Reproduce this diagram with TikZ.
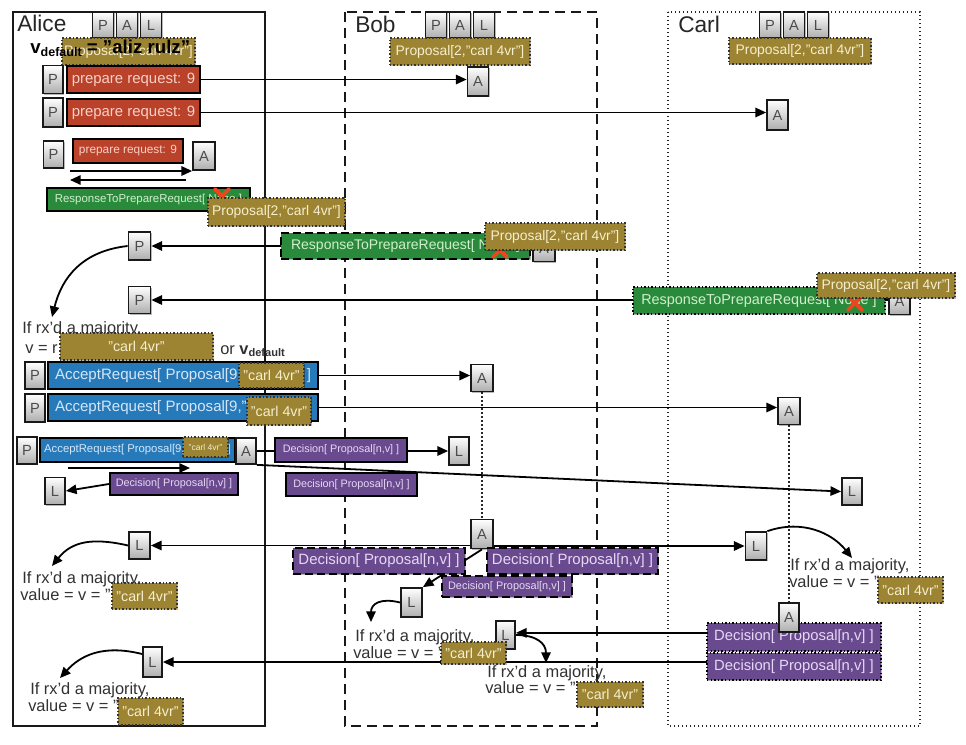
\documentclass[tikz,border=0pt]{standalone}
\usepackage{fontspec}
\setmainfont{Liberation Sans}
\usetikzlibrary{arrows.meta,backgrounds,shadows}

\definecolor{gold}{RGB}{156,132,50}
\definecolor{goldtext}{RGB}{246,238,205}
\definecolor{reqred}{RGB}{186,66,42}
\definecolor{reqtext}{RGB}{246,208,198}
\definecolor{respgreen}{RGB}{42,138,60}
\definecolor{resptext}{RGB}{208,238,204}
\definecolor{accblue}{RGB}{38,122,186}
\definecolor{acctext}{RGB}{212,230,248}
\definecolor{decpurple}{RGB}{106,74,142}
\definecolor{dectext}{RGB}{230,216,244}
\definecolor{xred}{RGB}{238,70,28}
\definecolor{ink}{RGB}{50,50,50}

\newcommand\myfs[1]{\fontsize{#1pt}{#1pt}\selectfont}
\newcommand\vdefsub[2]{v\raisebox{-#2}{\myfs{#1}default}}

\begin{document}
\begin{tikzpicture}[x=0.75pt,y=-0.75pt,
  sz/.style 2 args={minimum width=#1*0.75pt,minimum height=#2*0.75pt},
  softshadow/.style={drop shadow={shadow xshift=0.9pt,shadow yshift=-0.9pt,opacity=0.28,fill=black}},
  lanetitle/.style={anchor=base west,inner sep=0pt,font=\myfs{17},text=black!85},
  actor/.style={draw=black!90,line width=1.3pt,top color=white,bottom color=black!32,
    text=black!70,font=\myfs{11},inner sep=0pt,softshadow},
  msg/.style={draw=black,line width=1.7pt,inner sep=0pt,softshadow},
  dashedmsg/.style={dash pattern=on 6pt off 3pt},
  dottedmsg/.style={line width=1.4pt,dash pattern=on 1.1pt off 1.6pt},
  prep/.style={msg,fill=reqred,text=reqtext},
  resp/.style={msg,fill=respgreen,text=resptext},
  acc/.style={msg,fill=accblue,text=acctext},
  dec/.style={msg,fill=decpurple,text=dectext},
  prop/.style={draw=black!80,line width=1.3pt,dash pattern=on 1.1pt off 1.5pt,
    fill=gold,text=goldtext,inner sep=0pt,softshadow},
  note/.style={anchor=base west,inner sep=0pt,font=\myfs{12.3},text=ink},
  link/.style={draw=black,line width=1.35pt,-{Triangle[length=8pt,width=7pt]}},
  timeline/.style={draw=black!85,line width=1.4pt,dash pattern=on 1.1pt off 1.9pt},
  xmark/.style={draw=xred,line width=2.8pt,line cap=round},
]
\useasboundingbox (0,0) rectangle (966,744);

% lane headings and their P/A/L badges
\node[lanetitle] (tAlice) at (17,31) {Alice};
\node[lanetitle] (tBob) at (355,32) {Bob};
\node[lanetitle] (tCarl) at (678,32) {Carl};

\node[actor,sz={21}{26}] (aP0) at (103,25) {P};
\node[actor,sz={21}{26}] (aA0) at (127,25) {A};
\node[actor,sz={21}{26}] (aL0) at (151,25) {L};
\node[actor,sz={21}{26}] (bP0) at (436,25) {P};
\node[actor,sz={21}{26}] (bA0) at (460,25) {A};
\node[actor,sz={21}{26}] (bL0) at (484,25) {L};
\node[actor,sz={21}{26}] (cP0) at (770,25) {P};
\node[actor,sz={21}{26}] (cA0) at (794,25) {A};
\node[actor,sz={21}{26}] (cL0) at (818,25) {L};

% proposals already accepted by each acceptor
\node[prop,sz={133}{27},font=\myfs{10.4}] (aProp0) at (128.5,51.5) {Proposal[2,"carl 4vr"]};
\node[anchor=base west,inner sep=0pt,font=\myfs{14}\bfseries] (vDef0) at (30,53) {\vdefsub{9.4}{2.5pt} = "aliz rulz"};
\node[prop,sz={140}{27},font=\myfs{10.4}] (bProp0) at (460,51.5) {Proposal[2,"carl 4vr"]};
\node[prop,sz={142}{26},font=\myfs{10.4}] (cProp0) at (800,51) {Proposal[2,"carl 4vr"]};

% phase 1: prepare requests and responses
\node[actor,sz={20}{28}] (aP1) at (53,79.5) {P};
\node[prep,sz={133}{27},font=\myfs{11.2}] (req1) at (133.5,79.5) {prepare request: 9};
\node[actor,sz={21}{29}] (bA1) at (478,81.5) {A};
\node[actor,sz={20}{29}] (aP2) at (53,112.5) {P};
\node[prep,sz={133}{27},font=\myfs{11.2}] (req2) at (133.5,112.5) {prepare request: 9};
\node[actor,sz={21}{30}] (cA1) at (777.5,115) {A};
\node[actor,sz={20}{27}] (aP3) at (53.5,154.5) {P};
\node[prep,sz={110}{24},font=\myfs{8.9}] (req3) at (128,151) {prepare request: 9};
\node[actor,sz={22}{28}] (aA3) at (204,156) {A};
\coordinate (r3out) at (70,171);
\coordinate (r3in) at (186,180);
\node[resp,sz={203}{23},font=\myfs{8.6}] (aResp) at (148.5,199.5) {ResponseToPrepareRequest[ None ]};
\coordinate (x1) at (222,196);
\draw[xmark] (x1) +(-7,-7) -- +(7,7) +(-7,7) -- +(7,-7);
\node[prop,sz={137}{28},font=\myfs{10.4}] (aProp1) at (276.5,212) {Proposal[2,"carl 4vr"]};

\node[actor,sz={22}{28}] (aP4) at (139.5,246) {P};
\node[actor,sz={22}{26}] (bA2) at (544,248.5) {A};
\node[resp,dashedmsg,sz={249}{26},font=\myfs{10.5}] (bResp) at (405.5,246) {ResponseToPrepareRequest[ None ]};
\coordinate (x2) at (500,250);
\draw[xmark] (x2) +(-7,-7) -- +(7,7) +(-7,7) -- +(7,-7);
\node[prop,sz={140}{27},font=\myfs{10.4}] (bProp1) at (555,236.5) {Proposal[2,"carl 4vr"]};

\node[actor,sz={22}{27}] (aP5) at (139.5,300) {P};
\node[actor,sz={21}{26}] (cA2) at (899.5,301.5) {A};
\node[resp,dottedmsg,sz={252}{27},font=\myfs{10.8}] (cResp) at (759,300.5) {ResponseToPrepareRequest[ None ]};
\coordinate (x3) at (855,303);
\draw[xmark] (x3) +(-7,-7) -- +(7,7) +(-7,7) -- +(7,-7);
\node[prop,sz={138}{25},font=\myfs{10.4}] (cProp1) at (886,285.5) {Proposal[2,"carl 4vr"]};

% proposer picks the value for phase 2
\coordinate (m1tip) at (52,317);
\node[note] (m1a) at (22,333) {If rx'd a majority,};
\node[note] (m1b) at (25,353) {v = r};
\node[prop,sz={153}{27},font=\myfs{10.7}] (m1v) at (136.5,346.5) {"carl 4vr"};
\node[note] (m1or) at (220,354) {or \textbf{\vdefsub{8.3}{2.2pt}}};

% phase 2: accept requests
\node[actor,sz={20}{27}] (aP6) at (35,375.5) {P};
\node[acc,sz={270}{27},font=\myfs{11.3}] (acc1) at (183,375.5) {\hbox to 192pt{AcceptRequest[ Proposal[9,"\hfil]}};
\node[prop,sz={65}{25},font=\myfs{10.7}] (acc1v) at (271.5,375.5) {"carl 4vr"};
\node[actor,sz={22}{27}] (bA3) at (482,378) {A};
\node[actor,sz={20}{28}] (aP7) at (35,408) {P};
\node[acc,sz={270}{27},font=\myfs{11.3}] (acc2) at (183,407.5) {\hbox to 192pt{AcceptRequest[ Proposal[9,"\hfil]}};
\node[prop,sz={64}{28},font=\myfs{10.7}] (acc2v) at (279,411) {"carl 4vr"};
\node[actor,sz={22}{27}] (cA3) at (789,411) {A};
\node[actor,sz={20}{27}] (aP8) at (27,450.5) {P};
\node[acc,sz={195}{24},font=\myfs{8.5}] (acc3) at (137.5,450) {\hbox to 140pt{AcceptRequest[ Proposal[9,"\hfil]}};
\node[prop,sz={45}{20},font=\myfs{6.4}] (acc3v) at (205.5,447) {"carl 4vr"};
\node[actor,sz={20}{26}] (aA8) at (246,451) {A};
\coordinate (a8out) at (68,468);
\coordinate (a8in) at (190,468);

% decisions sent to the learners
\node[dec,sz={132}{24},font=\myfs{8.1}] (dec1) at (341,450) {Decision[ Proposal[n,v] ]};
\node[actor,sz={20}{28}] (bL1) at (459,451) {L};
\node[dec,sz={131}{23},font=\myfs{8.1}] (dec2) at (351.5,484.5) {Decision[ Proposal[n,v] ]};
\node[actor,sz={20}{27}] (cL1) at (852,491.5) {L};
\node[dec,sz={128}{22},font=\myfs{8.1}] (dec3) at (174,484) {Decision[ Proposal[n,v] ]};
\node[actor,sz={20}{27}] (aL2) at (55,491) {L};

\node[actor,sz={22}{29}] (bA4) at (482,534) {A};
\node[actor,sz={21}{27}] (aL3) at (139.5,545.5) {L};
\node[actor,sz={21}{28}] (cL2) at (756,546) {L};
\node[dec,dashedmsg,sz={172}{26},font=\myfs{11.2}] (dec4) at (379,561) {Decision[ Proposal[n,v] ]};
\node[dec,dashedmsg,sz={171}{26},font=\myfs{11.2}] (dec5) at (572.5,561) {Decision[ Proposal[n,v] ]};
\node[dec,dashedmsg,sz={130}{21},font=\myfs{8.2}] (dec6) at (507,586.5) {Decision[ Proposal[n,v] ]};
\node[actor,sz={21}{29}] (bL2) at (411.5,602.5) {L};

% learners concluding the chosen value
\coordinate (bm1tip) at (371,622);
\node[note] (bm1a) at (355,641) {If rx'd a majority,};
\node[note] (bm1b) at (353,658) {value = v = "};
\node[actor,sz={19}{28}] (bL3) at (505.5,635) {L};
\node[prop,sz={65}{22},font=\myfs{10.7}] (bm1v) at (473.5,653) {"carl 4vr"};
\coordinate (bm2tip) at (546,663);
\node[note] (bm2a) at (487,677) {If rx'd a majority,};
\node[note] (bm2b) at (485,693) {value = v = "};
\node[prop,sz={66}{25},font=\myfs{10.7}] (bm2v) at (610,694.5) {"carl 4vr"};

\coordinate (cm1tip) at (852,558);
\node[note] (cm1a) at (790,570) {If rx'd a majority,};
\node[note] (cm1b) at (789,587) {value = v = "};
\node[prop,sz={65}{26},font=\myfs{10.7}] (cm1v) at (910.5,590) {"carl 4vr"};
\node[dec,dottedmsg,sz={174}{28},font=\myfs{11.1}] (cDec1) at (794,637) {Decision[ Proposal[n,v] ]};
\node[dec,dottedmsg,sz={174}{27},font=\myfs{11.1}] (cDec2) at (794,666.5) {Decision[ Proposal[n,v] ]};
\node[actor,sz={20}{29}] (cA4) at (789,617.5) {A};

\coordinate (am1tip) at (52,566);
\node[note] (am1a) at (22,583) {If rx'd a majority,};
\node[note] (am1b) at (20,600) {value = v = "};
\node[prop,sz={65}{26},font=\myfs{10.7}] (am1v) at (144.5,596) {"carl 4vr"};
\node[actor,sz={19}{30}] (aL4) at (152.5,662) {L};
\coordinate (am2tip) at (60,678);
\node[note] (am2a) at (30,694) {If rx'd a majority,};
\node[note] (am2b) at (28,711) {value = v = "};
\node[prop,sz={65}{27},font=\myfs{10.7}] (am2v) at (150.5,711.5) {"carl 4vr"};

\begin{scope}[on background layer]
  \fill[white] (0,0) rectangle (966,744);
  % the three lanes
  \draw[line width=1.3pt,black!90] (13,12) rectangle (265,726);
  \draw[line width=1.3pt,black!90,dash pattern=on 7.5pt off 4.5pt] (345,12) rectangle (597,726);
  \draw[line width=1.3pt,black!85,dash pattern=on 1.1pt off 1.9pt] (668,12) rectangle (920,726);
  % prepare phase
  \draw[link] (req1.east) -- (req1.east -| bA1.west);
  \draw[link] (req2.east) -- (req2.east -| cA1.west);
  \draw[link] (r3out) -- (r3out -| aA3.west);
  \draw[link] (r3in) -- (r3in -| r3out);
  \draw[link] (bA2.west |- aP4.east) -- (aP4.east);
  \draw[link] (cA2.west |- aP5.east) -- (aP5.east);
  \draw[link] (aP4.west) .. controls +(-45,5) and +(10,-40) .. (m1tip);
  % accept phase
  \draw[link] (acc1.east) -- (acc1.east -| bA3.west);
  \draw[link] (acc2.east) -- (acc2.east -| cA3.west);
  \draw[link] (a8out) -- (a8in);
  \draw[timeline] (bA3.south) -- (bA4.north);
  \draw[timeline] (cA3.south) -- (cA4.north);
  % decisions
  \draw[link] (aA8.east) -- (bL1.west);
  \draw[link] (aA8.south east) -- (cL1.west);
  \draw[link] (dec3.west) -- (aL2.east);
  \draw[link] (bA4.west |- aL3.east) -- (aL3.east);
  \draw[link] (bA4.east |- cL2.west) -- (cL2.west);
  \draw[link] (bA4.south) -- (bL2.north east);
  \draw[link] (cA4.south west) -- (cA4.south west -| bL3.east);
  \draw[link] (cA4.west |- aL4.east) -- (aL4.east);
  % learners reaching a conclusion
  \draw[link] (aL3.west) .. controls +(-35,-8) and +(20,-25) .. (am1tip);
  \draw[link] ([yshift=6pt]aL4.west) .. controls +(-40,-10) and +(20,-22) .. (am2tip);
  \draw[link] (bL2.west) .. controls +(-20,-5) and +(0,-18) .. (bm1tip);
  \draw[link] (bL3.east) .. controls +(20,0) and +(0,-20) .. (bm2tip);
  \draw[link] (cL2.north east) .. controls +(35,-12) and +(-20,-25) .. (cm1tip);
\end{scope}
\end{tikzpicture}
\end{document}
